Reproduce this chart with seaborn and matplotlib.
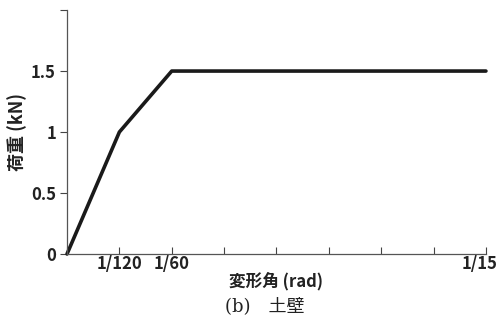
import numpy as np
import pandas as pd
import seaborn as sns
import matplotlib.pyplot as plt
import matplotlib.transforms as mtransforms

# データ（変形角 rad, 荷重 kN）
angle = [0, 1/120, 1/60, 1/15]
load = [0, 1.0, 1.5, 1.5]
xtick_pos = [i / 120 for i in range(9)]
xtick_lab = ['', '1/120', '1/60', '', '', '', '', '', '1/15']
ytick_pos = [0, 0.5, 1, 1.5, 2.0]
ytick_lab = ['0', '0.5', '1', '1.5', '']

sns.set_style('white')
plt.rcParams['font.family'] = ['Noto Sans CJK JP', 'DejaVu Sans']

df = pd.DataFrame({'angle': angle, 'load': load})

fig = plt.figure(figsize=(5.02, 3.25), dpi=100)
ax = fig.add_axes([0.1335, 0.2185, 0.8345, 0.7505])
sns.lineplot(data=df, x='angle', y='load', color='#1a1a1a', linewidth=2.6, ax=ax, clip_on=False)

ax.set_xlim(0, 1/15)
ax.set_ylim(0, 2.0)
ax.set_xticks(xtick_pos)
ax.set_xticklabels(xtick_lab, fontsize=12, fontweight='bold', color='#222222')
ax.set_yticks(ytick_pos)
ax.set_yticklabels(ytick_lab, fontsize=12, fontweight='bold', color='#222222')
ax.tick_params(axis='x', bottom=True, direction='in', length=5, width=0.8, color='#444444', pad=1)
ax.tick_params(axis='y', left=True, direction='out', length=5, width=0.8, color='#444444', pad=3)
for s in ['top', 'right']:
    ax.spines[s].set_visible(False)
for s in ['left', 'bottom']:
    ax.spines[s].set_color('#555555')
    ax.spines[s].set_linewidth(0.9)

# 右端の 1/15 ラベルを少し左へ
last = ax.get_xticklabels()[-1]
last.set_transform(last.get_transform() + mtransforms.ScaledTranslation(-6 / 100, 0, fig.dpi_scale_trans))

ax.set_xlabel('変形角 (rad)', fontsize=12, fontweight='bold', color='#222222', labelpad=0)
ax.set_ylabel('荷重 (kN)', fontsize=13, fontweight='bold', color='#222222', labelpad=3)

fig.text(0.527, 0.058, '(b)　土壁', ha='center', va='center', fontsize=13,
         family=['DejaVu Serif', 'Noto Sans CJK JP'], color='#222222')

fig.savefig('out.png', dpi=100)
